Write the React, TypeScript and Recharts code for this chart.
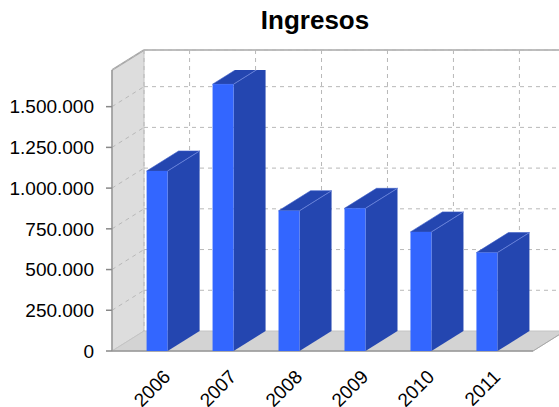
import React from "react";
import { BarChart, Bar, XAxis, YAxis, CartesianGrid, ReferenceArea } from "recharts";

const years = ["2006", "2007", "2008", "2009", "2010", "2011"];
const ingresos = [1105000, 1638000, 861000, 876000, 731000, 604000];
const yTicks = [0, 250000, 500000, 750000, 1000000, 1250000, 1500000];
const yMax = 1725000;

const data = years.map((year, i) => ({ year, ingresos: ingresos[i] }));

// 3D depth offset
const DX = 32;
const DY = -20;
const FONT = '"Liberation Sans", Arial, Helvetica, sans-serif';
const GRID = "#b8b8b8";

function fmt(v: number) {
  return String(v).replace(/\B(?=(\d{3})+(?!\d))/g, ".");
}

function Walls(props: any) {
  const { x, y, width, height } = props;
  const bottom = y + height;
  const right = x + width;
  return (
    <g>
      <polygon
        points={`${x},${bottom} ${x},${y} ${x + DX},${y + DY} ${x + DX},${bottom + DY}`}
        fill="#dddddd"
        stroke="#c4c4c4"
      />
      <line x1={x} y1={y} x2={x + DX} y2={y + DY} stroke="#a8a8a8" strokeWidth={1.5} />
      <line x1={x + DX} y1={y + DY} x2={right + DX + 20} y2={y + DY} stroke="#a8a8a8" strokeWidth={1.5} />
      <polygon
        points={`${x},${bottom} ${right},${bottom} ${right + DX},${bottom + DY} ${x + DX},${bottom + DY}`}
        fill="#d3d3d3"
        stroke="#c4c4c4"
      />
      <line x1={x} y1={bottom} x2={right} y2={bottom} stroke="#999999" strokeWidth={1.5} />
      <line x1={right} y1={bottom} x2={right + DX} y2={bottom + DY} stroke="#a8a8a8" />
    </g>
  );
}

function hLine(p: any) {
  const key = `h-${p.index}`;
  const floorY = p.y != null && p.height != null ? p.y + p.height : 351;
  if (Math.abs(p.y1 - floorY) < 1) return <g key={key} />;
  return (
    <g key={key}>
      <line x1={p.x1} y1={p.y1} x2={p.x1 + DX} y2={p.y1 + DY} stroke={GRID} strokeDasharray="4 4" />
      <line x1={p.x1 + DX} y1={p.y1 + DY} x2={p.x2 + DX + 20} y2={p.y2 + DY} stroke={GRID} strokeDasharray="4 4" />
    </g>
  );
}

function vLine(p: any) {
  return (
    <line
      key={`v-${p.index}`}
      x1={p.x1 + DX}
      y1={p.y1 + DY}
      x2={p.x2 + DX}
      y2={p.y2 + DY}
      stroke={GRID}
      strokeDasharray="4 4"
    />
  );
}

function Bar3D(props: any) {
  const { x, y, width, height } = props;
  if (height == null || width == null) return null;
  const r = x + width;
  const b = y + height;
  const dark = "#2446b0";
  return (
    <g>
      <polygon points={`${x},${y} ${x + DX},${y + DY} ${r + DX},${y + DY} ${r},${y}`} fill={dark} stroke="#3a5cc8" strokeWidth={0.6} />
      <polygon points={`${r},${y} ${r + DX},${y + DY} ${r + DX},${b + DY} ${r},${b}`} fill={dark} />
      <line x1={r} y1={y} x2={r + DX} y2={y + DY} stroke="#6f88dd" strokeWidth={0.8} />
      <rect x={x} y={y} width={width} height={height} fill="#3366ff" />
    </g>
  );
}

function XTick(props: any) {
  const { x, y, payload } = props;
  const tx = x + 14;
  const ty = y + 27;
  return (
    <text
      x={tx}
      y={ty}
      textAnchor="end"
      transform={`rotate(-45 ${tx} ${ty})`}
      fontFamily={FONT}
      fontSize={19}
      fill="#000"
    >
      {payload.value}
    </text>
  );
}

export default function App() {
  return (
    <div style={{ position: "absolute", left: 0, top: 0, width: 559, height: 407, background: "#fff", overflow: "hidden" }}>
      <svg width={559} height={40} style={{ position: "absolute", left: 0, top: 0 }}>
        <text x={315} y={29} textAnchor="middle" fontFamily={FONT} fontWeight="bold" fontSize={26} fill="#000">
          Ingresos
        </text>
      </svg>
      <BarChart
        width={559}
        height={407}
        data={data}
        margin={{ top: 70, right: 26, bottom: 0, left: 0 }}
        barSize={21}
      >
        <XAxis xAxisId="full" dataKey="year" hide />
        <ReferenceArea
          xAxisId="full"
          y1={0}
          y2={yMax}
          shape={(p: any) => <Walls {...p} />}
          zIndex={-200}
        />
        <CartesianGrid horizontal={hLine} vertical={vLine} zIndex={-100} />
        <XAxis
          dataKey="year"
          height={56}
          padding={{ left: 12.6, right: 12.6 }}
          axisLine={false}
          tickLine={false}
          tickSize={0}
          tickMargin={0}
          tick={<XTick />}
          interval={0}
        />
        <YAxis
          width={112}
          domain={[0, yMax]}
          ticks={yTicks}
          tickFormatter={fmt}
          axisLine={{ stroke: "#999999", strokeWidth: 1.5 }}
          tickLine={{ stroke: "#888888", strokeWidth: 1.5 }}
          tickSize={6}
          tickMargin={12}
          tick={{ fill: "#000", fontSize: 19, fontFamily: FONT }}
          allowDataOverflow
        />
        <Bar dataKey="ingresos" shape={(p: any) => <Bar3D {...p} />} isAnimationActive={false} />
      </BarChart>
    </div>
  );
}
